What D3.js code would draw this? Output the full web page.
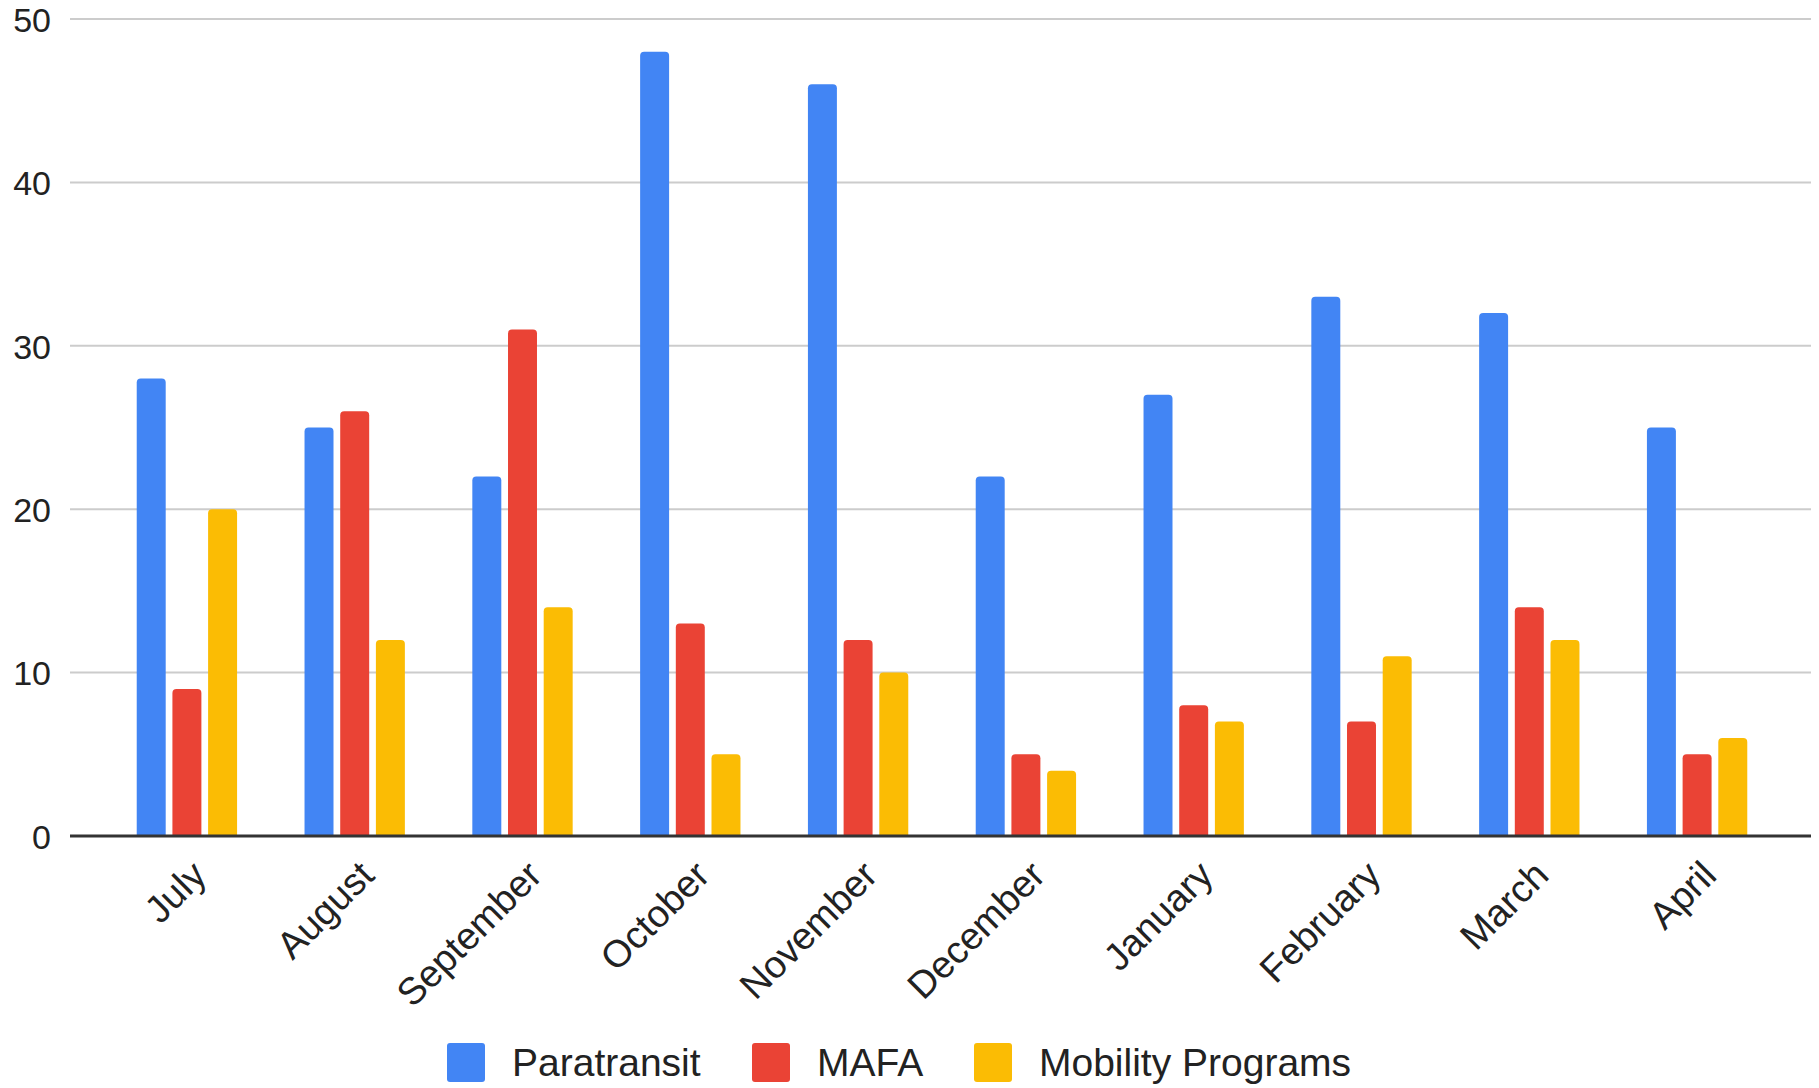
<!DOCTYPE html>
<html>
<head>
<meta charset="utf-8">
<script src="https://cdn.jsdelivr.net/npm/d3@7"></script>
<style>
  html, body { margin: 0; padding: 0; background: #fff; }
  svg { display: block; }
  text { font-family: Arial, "Liberation Sans", sans-serif; fill: #222; }
</style>
</head>
<body>
<svg id="chart" width="1819" height="1088"></svg>
<script>
// Monthly counts by program
const months = ["July", "August", "September", "October", "November", "December", "January", "February", "March", "April"];
const seriesNames = ["Paratransit", "MAFA", "Mobility Programs"];
const paratransit = [28, 25, 22, 48, 46, 22, 27, 33, 32, 25];
const mafa = [9, 26, 31, 13, 12, 5, 8, 7, 14, 5];
const mobilityPrograms = [20, 12, 14, 5, 10, 4, 7, 11, 12, 6];
const yTicks = [0, 10, 20, 30, 40, 50];
const colors = ["#4285F4", "#EA4335", "#FBBC04"];

const seriesValues = [paratransit, mafa, mobilityPrograms];
const rows = months.map((m, i) => ({
  month: m,
  values: seriesNames.map((s, k) => ({ series: s, value: seriesValues[k][i] }))
}));

const svg = d3.select("#chart");

const plotLeft = 70, plotRight = 1811;
const y = d3.scaleLinear().domain([0, 50]).range([836, 19]);

const x0 = d3.scaleBand()
  .domain(months)
  .range([103, 1781])
  .paddingInner(0.402)
  .paddingOuter(0.201);

const x1 = d3.scaleBand()
  .domain(seriesNames)
  .range([0, x0.bandwidth()])
  .paddingInner(0.188);

const color = d3.scaleOrdinal().domain(seriesNames).range(colors);

// Horizontal gridlines
svg.append("g")
  .selectAll("line")
  .data(yTicks.filter(t => t !== 0))
  .join("line")
  .attr("x1", plotLeft)
  .attr("x2", plotRight)
  .attr("y1", d => y(d))
  .attr("y2", d => y(d))
  .attr("stroke", "#cccccc")
  .attr("stroke-width", 2);

// Y axis labels
const yAxis = d3.axisLeft(y).tickValues(yTicks).tickSize(0).tickPadding(0);
const yg = svg.append("g").attr("transform", "translate(51,0)").call(yAxis);
yg.select(".domain").remove();
yg.selectAll("text")
  .attr("font-size", 34)
  .attr("fill", "#222")
  .attr("dy", "0.36em")
  .attr("font-family", "Arial, 'Liberation Sans', sans-serif");

// Bars with rounded top corners
function topRounded(x, yTop, w, h, r) {
  r = Math.min(r, w / 2, h);
  return `M${x},${yTop + h}V${yTop + r}Q${x},${yTop} ${x + r},${yTop}` +
         `H${x + w - r}Q${x + w},${yTop} ${x + w},${yTop + r}V${yTop + h}Z`;
}

svg.append("g")
  .selectAll("g")
  .data(rows)
  .join("g")
  .attr("transform", d => `translate(${x0(d.month)},0)`)
  .selectAll("path")
  .data(d => d.values)
  .join("path")
  .attr("fill", d => color(d.series))
  .attr("d", d => topRounded(x1(d.series), y(d.value), x1.bandwidth(), y(0) - y(d.value), 4));

// Baseline
svg.append("line")
  .attr("x1", plotLeft)
  .attr("x2", plotRight)
  .attr("y1", y(0))
  .attr("y2", y(0))
  .attr("stroke", "#333333")
  .attr("stroke-width", 3);

// Rotated month labels
const xAxis = d3.axisBottom(x0).tickSize(0).tickPadding(0);
const xg = svg.append("g").call(xAxis);
xg.select(".domain").remove();
xg.selectAll(".tick")
  .attr("transform", d => `translate(${x0(d) + x0.bandwidth() / 2 + 12},868)`);
xg.selectAll(".tick text")
  .attr("font-size", 38)
  .attr("fill", "#222")
  .attr("font-family", "Arial, 'Liberation Sans', sans-serif")
  .attr("text-anchor", "end")
  .attr("x", 0)
  .attr("y", 0)
  .attr("dy", "0.35em")
  .attr("transform", "rotate(-45)");

// Legend
const legendItems = [
  { name: seriesNames[0], sx: 447, tx: 512 },
  { name: seriesNames[1], sx: 752, tx: 817 },
  { name: seriesNames[2], sx: 974, tx: 1039 }
];
const legend = svg.append("g");
legend.selectAll("rect")
  .data(legendItems)
  .join("rect")
  .attr("x", d => d.sx)
  .attr("y", 1043)
  .attr("width", 38)
  .attr("height", 39)
  .attr("rx", 3)
  .attr("fill", d => color(d.name));
legend.selectAll("text")
  .data(legendItems)
  .join("text")
  .attr("x", d => d.tx)
  .attr("y", 1076)
  .attr("font-size", 39)
  .text(d => d.name);
</script>
</body>
</html>
